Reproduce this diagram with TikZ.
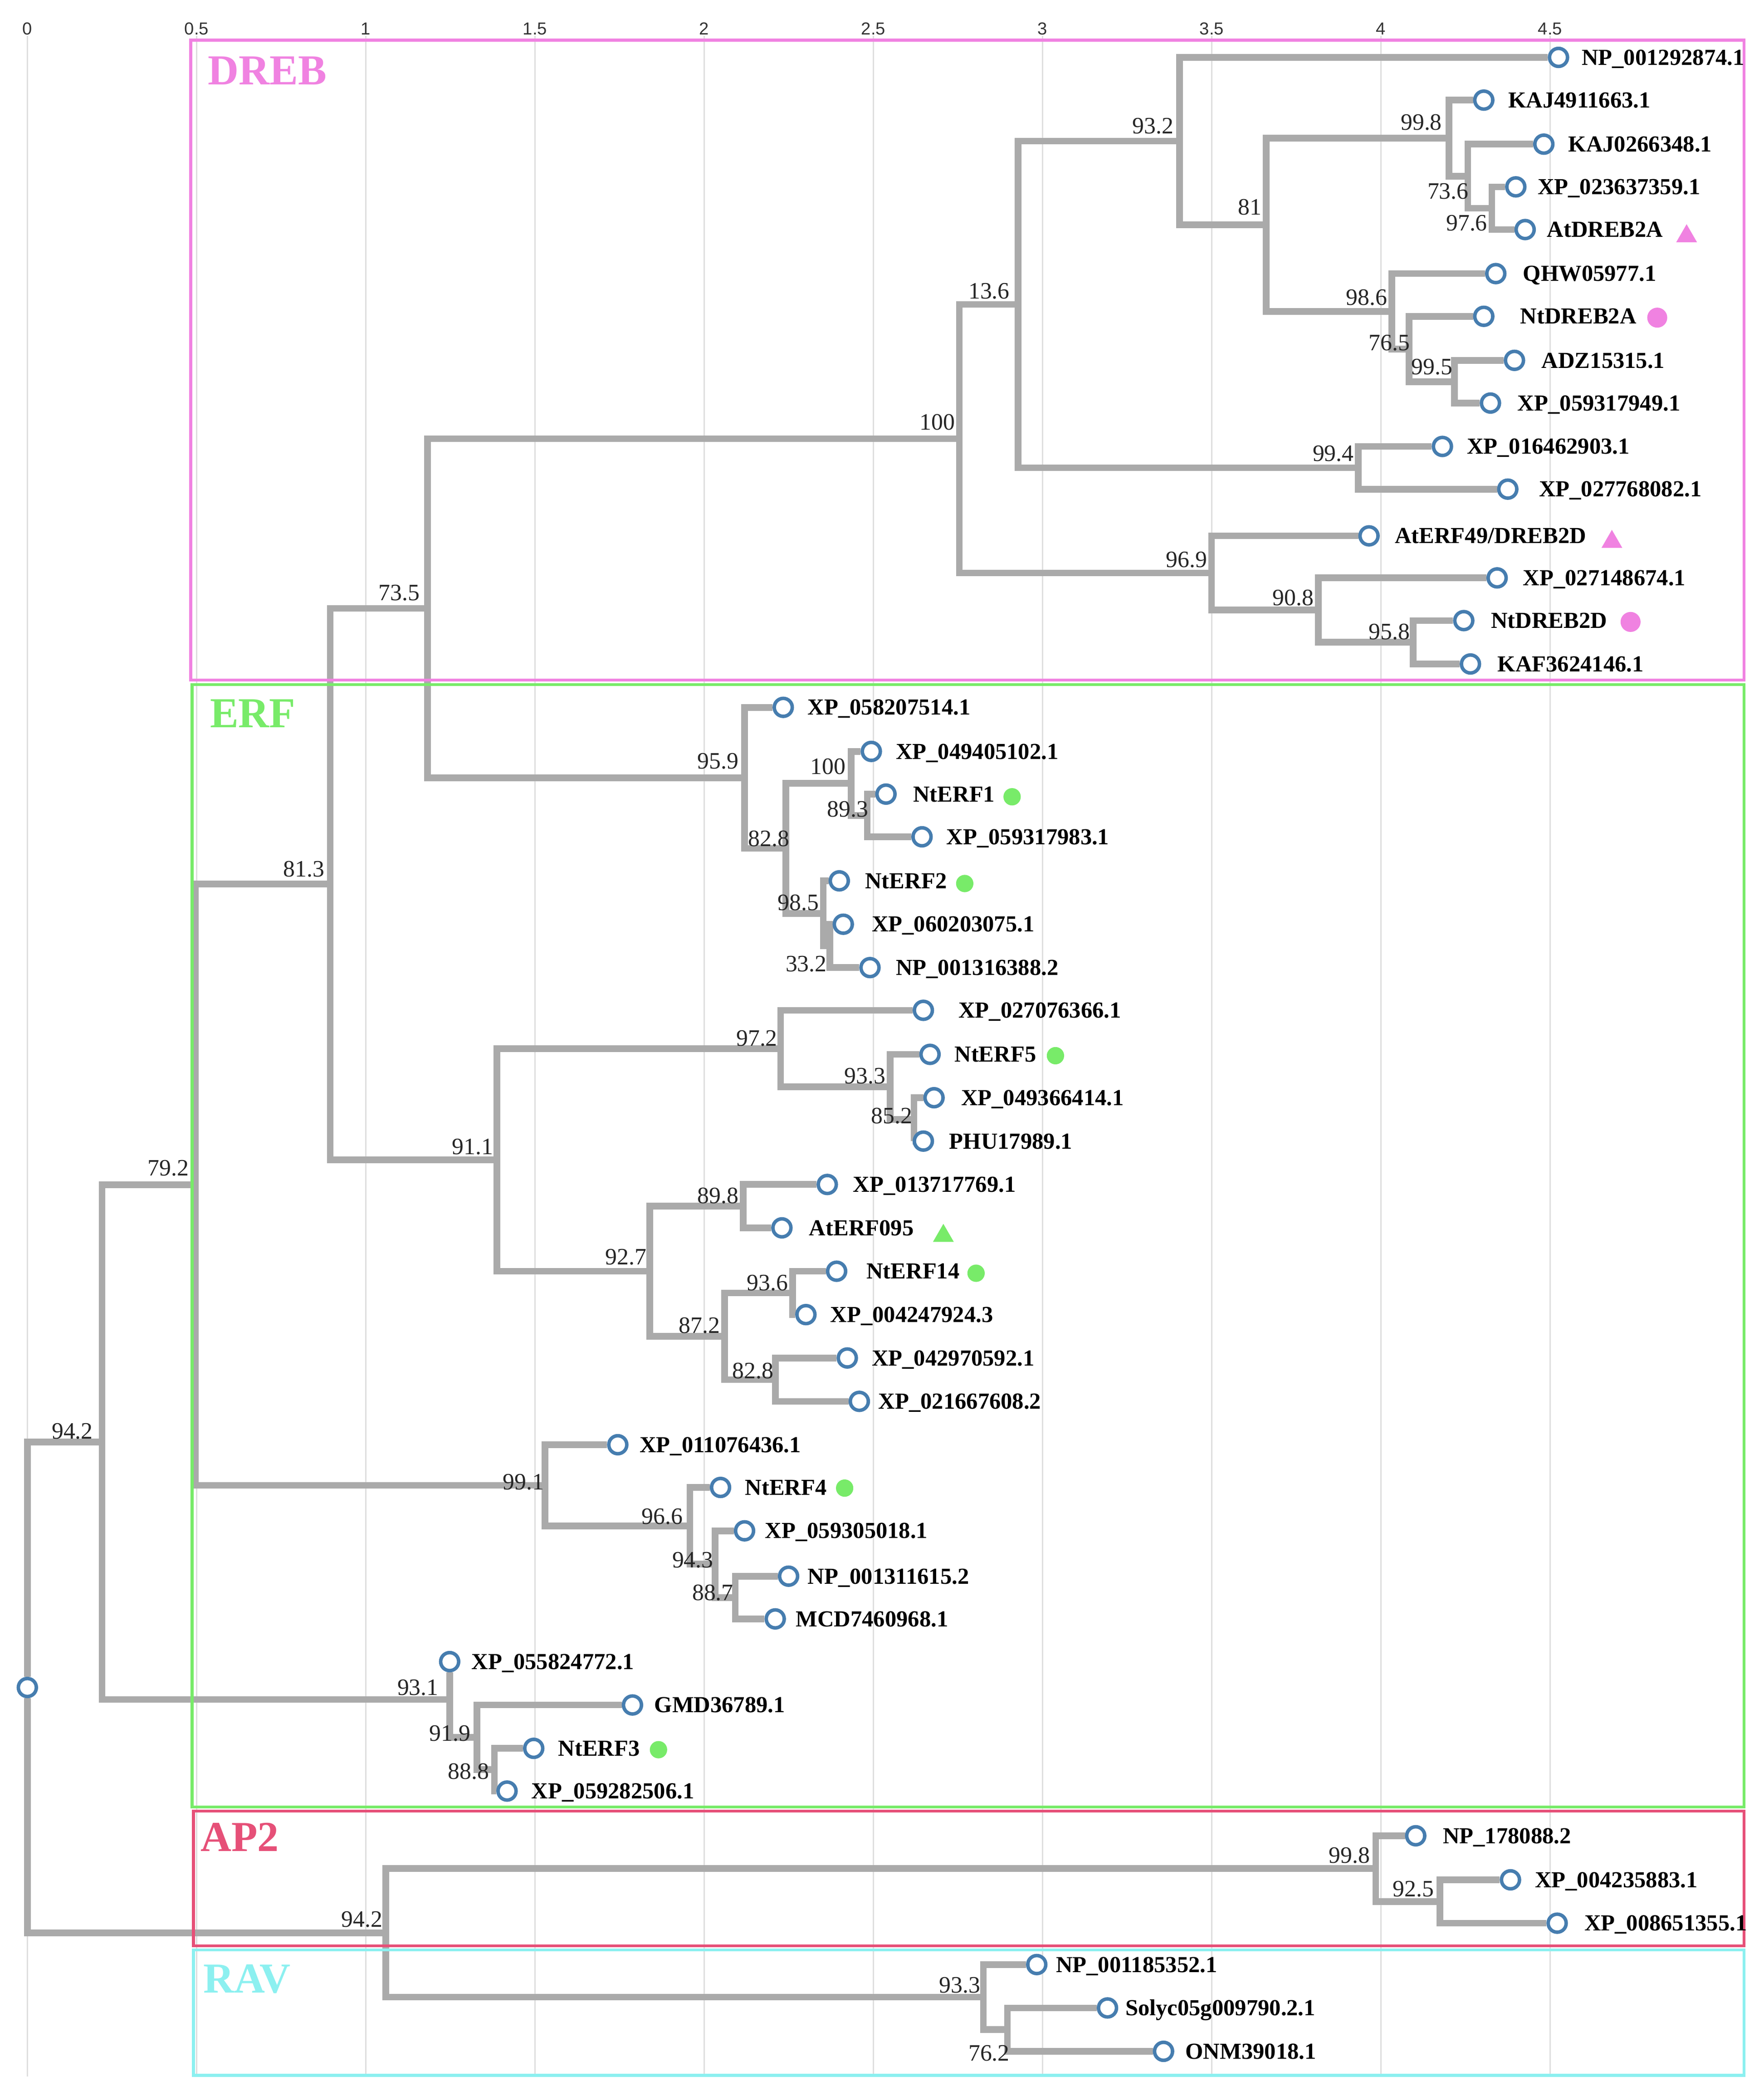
\documentclass[tikz,border=0pt]{standalone}
\usepackage{fontspec}
\setmainfont{Liberation Serif}
\newfontfamily\axisfont{Liberation Sans}
\usetikzlibrary{backgrounds,shapes.geometric}
\definecolor{brgray}{RGB}{170,170,170}
\definecolor{gridgray}{RGB}{222,222,222}
\definecolor{cblue}{RGB}{70,125,175}
\definecolor{drebpink}{RGB}{240,130,225}
\definecolor{erfgreen}{RGB}{120,235,105}
\definecolor{aptwo}{RGB}{230,80,120}
\definecolor{ravcyan}{RGB}{140,240,240}
\newcommand\leafnode[5]{\node[leaf] (#1) at (#2,#3) {}; \node[leaflab] (#1t) at (#4,{#3+5.7}) {#5};}
\newcommand\bsl[4]{\node[bslab] (b#1) at (#2,{#3+6}) {#4};}
\begin{document}
\begin{tikzpicture}[x=0.5pt,y=-0.5pt,
  br/.style={draw=brgray, line width=2.5pt, line join=miter},
  leaf/.style={circle, draw=cblue, line width=1.3pt, fill=white, minimum size=6.75pt, inner sep=0pt},
  leaflab/.style={anchor=base west, inner sep=0pt, font=\bfseries\fontsize{8.6}{10}\selectfont},
  bslab/.style={anchor=base east, inner sep=0pt, font=\fontsize{8.8}{10}\selectfont, text=black!85},
  tick/.style={font=\axisfont\fontsize{6.5}{7}\selectfont, inner sep=0pt, text=black!80},
  gridln/.style={draw=gridgray, line width=0.5pt},
  grp/.style={anchor=base west, inner sep=0pt, font=\bfseries\fontsize{16}{18}\selectfont},
  boxln/.style={line width=1.1pt},
  pdot/.style={circle, fill=drebpink, minimum size=7.5pt, inner sep=0pt},
  gdot/.style={circle, fill=erfgreen, minimum size=6.5pt, inner sep=0pt},
  tri/.style={regular polygon, regular polygon sides=3, minimum size=9pt, inner sep=0pt}]
\useasboundingbox (0,0) rectangle (1322,1570.5);

% ---------- leaves ----------
\leafnode{L1}{1168}{43}{1185}{NP\_001292874.1}
\leafnode{L2}{1112}{75}{1130}{KAJ4911663.1}
\leafnode{L3}{1157}{108}{1175}{KAJ0266348.1}
\leafnode{L4}{1136}{140}{1152}{XP\_023637359.1}
\leafnode{L5}{1143}{172}{1159}{AtDREB2A}
\leafnode{L6}{1121}{205}{1141}{QHW05977.1}
\leafnode{L7}{1112}{237}{1139}{NtDREB2A}
\leafnode{L8}{1135}{270}{1155}{ADZ15315.1}
\leafnode{L9}{1117}{302}{1137}{XP\_059317949.1}
\leafnode{L10}{1081}{334.5}{1099}{XP\_016462903.1}
\leafnode{L11}{1130}{366.5}{1153}{XP\_027768082.1}
\leafnode{L12}{1026}{401.5}{1045}{AtERF49/DREB2D}
\leafnode{L13}{1122}{433}{1141}{XP\_027148674.1}
\leafnode{L14}{1097}{465}{1117}{NtDREB2D}
\leafnode{L15}{1102}{497.5}{1122}{KAF3624146.1}
\leafnode{L16}{587}{530}{605}{XP\_058207514.1}
\leafnode{L17}{653}{563}{671}{XP\_049405102.1}
\leafnode{L18}{664}{595}{684}{NtERF1}
\leafnode{L19}{691}{627}{709}{XP\_059317983.1}
\leafnode{L20}{629}{660}{648}{NtERF2}
\leafnode{L21}{632}{692.5}{653}{XP\_060203075.1}
\leafnode{L22}{652}{725}{671}{NP\_001316388.2}
\leafnode{L23}{692}{757}{718}{XP\_027076366.1}
\leafnode{L24}{697}{790}{715}{NtERF5}
\leafnode{L25}{700}{822.5}{720}{XP\_049366414.1}
\leafnode{L26}{692}{855}{711}{PHU17989.1}
\leafnode{L27}{620}{887.5}{639}{XP\_013717769.1}
\leafnode{L28}{586}{920}{606}{AtERF095}
\leafnode{L29}{627}{952.5}{649}{NtERF14}
\leafnode{L30}{604}{985}{622}{XP\_004247924.3}
\leafnode{L31}{635}{1017.5}{653}{XP\_042970592.1}
\leafnode{L32}{644}{1050}{658}{XP\_021667608.2}
\leafnode{L33}{463}{1082.5}{479}{XP\_011076436.1}
\leafnode{L34}{540}{1114.5}{558}{NtERF4}
\leafnode{L35}{558}{1147}{573}{XP\_059305018.1}
\leafnode{L36}{591}{1181}{605}{NP\_001311615.2}
\leafnode{L37}{581}{1213}{596}{MCD7460968.1}
\leafnode{L38}{337}{1245}{353}{XP\_055824772.1}
\leafnode{L39}{474}{1277.5}{490}{GMD36789.1}
\leafnode{L40}{400}{1310}{418}{NtERF3}
\leafnode{L41}{380}{1342}{398}{XP\_059282506.1}
\leafnode{L42}{1061}{1375.5}{1081}{NP\_178088.2}
\leafnode{L43}{1132}{1408.5}{1150}{XP\_004235883.1}
\leafnode{L44}{1167}{1441}{1187}{XP\_008651355.1}
\leafnode{L45}{777}{1472}{791}{NP\_001185352.1}
\leafnode{L46}{830}{1504.5}{843}{Solyc05g009790.2.1}
\leafnode{L47}{872}{1537}{888}{ONM39018.1}
\node[leaf] (root) at (20.5,1264.4) {};

% ---------- internal nodes ----------
\coordinate (iS) at (1118,156);
\coordinate (iR) at (1100,132);
\coordinate (iP) at (1086,103.5);
\coordinate (iU) at (1090,286);
\coordinate (iT) at (1056,261.5);
\coordinate (iQ) at (1043,233.25);
\coordinate (iO) at (949,168.4);
\coordinate (iM) at (884,105.7);
\coordinate (iN) at (1018,350.5);
\coordinate (iK) at (763,228.1);
\coordinate (iW) at (1059,481.25);
\coordinate (iV) at (988,457.1);
\coordinate (iL) at (908,429.3);
\coordinate (iI) at (719,328.7);
\coordinate (iAA) at (650,611);
\coordinate (iY) at (638,587);
\coordinate (iAB) at (622,708.75);
\coordinate (iZ) at (617,684.4);
\coordinate (iX) at (589,635.7);
\coordinate (iJ) at (558,582.85);
\coordinate (iG) at (320.5,455.8);
\coordinate (iAF) at (685,838.75);
\coordinate (iAE) at (667,814.4);
\coordinate (iAC) at (585,785.7);
\coordinate (iAG) at (557,903.75);
\coordinate (iAI) at (594,968.75);
\coordinate (iAJ) at (581,1033.75);
\coordinate (iAH) at (543,1001.25);
\coordinate (iAD) at (487,952.5);
\coordinate (iH) at (372.5,869.1);
\coordinate (iE) at (247.5,662.45);
\coordinate (iAM) at (551,1197);
\coordinate (iAL) at (536,1172);
\coordinate (iAK) at (517,1143.25);
\coordinate (iF) at (408.5,1112.9);
\coordinate (iB) at (146.5,887.7);
\coordinate (iAO) at (370.5,1326);
\coordinate (iAN) at (357.5,1301.75);
\coordinate (iC) at (337,1273.4);
\coordinate (iA) at (76.5,1080.55);
\coordinate (iAR) at (1079,1424.75);
\coordinate (iAP) at (1031,1400.1);
\coordinate (iAS) at (755,1520.75);
\coordinate (iAQ) at (737,1496.4);
\coordinate (iD) at (289,1448.25);

\begin{scope}[on background layer]
  \fill[white] (0,0) rectangle (1322,1570.5);
  % grid and axis labels
  \foreach \gx/\gl [count=\i] in {20.5/0,147.3/0.5,274.1/1,400.9/1.5,527.7/2,654.5/2.5,781.3/3,908.1/3.5,1034.9/4,1161.7/4.5}{
    \draw[gridln] (\gx,27) -- (\gx,1556);
    \node[tick] (tick\i) at (\gx,21.5) {\gl};
  }
  % branches
  \draw[br] (L4) -| (iS) |- (L5);
  \draw[br] (L3) -| (iR) |- (iS);
  \draw[br] (L2) -| (iP) |- (iR);
  \draw[br] (L8) -| (iU) |- (L9);
  \draw[br] (L7) -| (iT) |- (iU);
  \draw[br] (L6) -| (iQ) |- (iT);
  \draw[br] (iP) -| (iO) |- (iQ);
  \draw[br] (L1) -| (iM) |- (iO);
  \draw[br] (L10) -| (iN) |- (L11);
  \draw[br] (iM) -| (iK) |- (iN);
  \draw[br] (L14) -| (iW) |- (L15);
  \draw[br] (L13) -| (iV) |- (iW);
  \draw[br] (L12) -| (iL) |- (iV);
  \draw[br] (iK) -| (iI) |- (iL);
  \draw[br] (L18) -| (iAA) |- (L19);
  \draw[br] (L17) -| (iY) |- (iAA);
  \draw[br] (L21) -| (iAB) |- (L22);
  \draw[br] (L20) -| (iZ) |- (iAB);
  \draw[br] (iY) -| (iX) |- (iZ);
  \draw[br] (L16) -| (iJ) |- (iX);
  \draw[br] (iI) -| (iG) |- (iJ);
  \draw[br] (L25) -| (iAF) |- (L26);
  \draw[br] (L24) -| (iAE) |- (iAF);
  \draw[br] (L23) -| (iAC) |- (iAE);
  \draw[br] (L27) -| (iAG) |- (L28);
  \draw[br] (L29) -| (iAI) |- (L30);
  \draw[br] (L31) -| (iAJ) |- (L32);
  \draw[br] (iAI) -| (iAH) |- (iAJ);
  \draw[br] (iAG) -| (iAD) |- (iAH);
  \draw[br] (iAC) -| (iH) |- (iAD);
  \draw[br] (iG) -| (iE) |- (iH);
  \draw[br] (L36) -| (iAM) |- (L37);
  \draw[br] (L35) -| (iAL) |- (iAM);
  \draw[br] (L34) -| (iAK) |- (iAL);
  \draw[br] (L33) -| (iF) |- (iAK);
  \draw[br] (iE) -| (iB) |- (iF);
  \draw[br] (L40) -| (iAO) |- (L41);
  \draw[br] (L39) -| (iAN) |- (iAO);
  \draw[br] (L38) -- (iC) |- (iAN);
  \draw[br] (iB) -| (iA) |- (iC);
  \draw[br] (L43) -| (iAR) |- (L44);
  \draw[br] (L42) -| (iAP) |- (iAR);
  \draw[br] (L46) -| (iAS) |- (L47);
  \draw[br] (L45) -| (iAQ) |- (iAS);
  \draw[br] (iAP) -| (iD) |- (iAQ);
  \draw[br] (iA) -| (root) |- (iD);
  % group boxes
  \draw[boxln, drebpink] (143,30) rectangle (1307,509.5);
  \draw[boxln, erfgreen] (144,513) rectangle (1307,1354);
  \draw[boxln, aptwo] (145,1357) rectangle (1307,1458);
  \draw[boxln, ravcyan] (145,1461) rectangle (1307,1555);
\end{scope}

% ---------- group labels ----------
\node[grp, text=drebpink] (gDREB) at (155.5,63.5) {DREB};
\node[grp, text=erfgreen] (gERF) at (157,545) {ERF};
\node[grp, text=aptwo] (gAP2) at (150,1387) {AP2};
\node[grp, text=ravcyan] (gRAV) at (152,1493) {RAV};

% ---------- markers ----------
\node[tri, fill=drebpink] (m5) at (1264,177) {};
\node[pdot] (m7) at (1242,238) {};
\node[tri, fill=drebpink] (m12) at (1208,406) {};
\node[pdot] (m14) at (1222,466) {};
\node[gdot] (m18) at (758.5,597) {};
\node[gdot] (m20) at (723,662) {};
\node[gdot] (m24) at (791,791) {};
\node[tri, fill=erfgreen] (m28) at (707,926) {};
\node[gdot] (m29) at (731.5,954) {};
\node[gdot] (m34) at (633,1115) {};
\node[gdot] (m40) at (493.5,1311) {};

% ---------- bootstrap values ----------
\bsl{M}{880}{94}{93.2}
\bsl{P}{1081}{91.5}{99.8}
\bsl{R}{1101}{143}{73.6}
\bsl{S}{1115}{167}{97.6}
\bsl{O}{946}{155}{81}
\bsl{Q}{1040}{222.7}{98.6}
\bsl{T}{1057}{256.6}{76.5}
\bsl{U}{1089}{274.5}{99.5}
\bsl{K}{757}{218}{13.6}
\bsl{I}{716}{316}{100}
\bsl{N}{1015}{339.4}{99.4}
\bsl{L}{905}{419}{96.9}
\bsl{V}{985}{447.5}{90.8}
\bsl{W}{1057}{473}{95.8}
\bsl{G}{315}{444}{73.5}
\bsl{J}{554}{570}{95.9}
\bsl{Y}{634}{574}{100}
\bsl{AA}{651}{606}{89.3}
\bsl{X}{592}{628}{82.8}
\bsl{Z}{614}{676}{98.5}
\bsl{AB}{620}{722}{33.2}
\bsl{E}{243.5}{651}{81.3}
\bsl{AC}{583}{777.6}{97.2}
\bsl{AE}{664}{806}{93.3}
\bsl{AF}{684}{836}{85.2}
\bsl{H}{370}{859}{91.1}
\bsl{AG}{554}{895.6}{89.8}
\bsl{AD}{485}{941.5}{92.7}
\bsl{AI}{591}{961}{93.6}
\bsl{AH}{540}{993}{87.2}
\bsl{AJ}{580}{1027}{82.8}
\bsl{B}{142}{875}{79.2}
\bsl{A}{70}{1072}{94.2}
\bsl{F}{408}{1110}{99.1}
\bsl{AK}{512}{1136}{96.6}
\bsl{AL}{535}{1168.5}{94.3}
\bsl{AM}{550}{1193}{88.7}
\bsl{C}{329}{1264}{93.1}
\bsl{AN}{353}{1298.5}{91.9}
\bsl{AO}{367}{1327}{88.8}
\bsl{AP}{1027}{1390}{99.8}
\bsl{AR}{1075}{1415}{92.5}
\bsl{D}{287}{1438}{94.2}
\bsl{AQ}{735}{1487}{93.3}
\bsl{AS}{757}{1538}{76.2}
\end{tikzpicture}
\end{document}
